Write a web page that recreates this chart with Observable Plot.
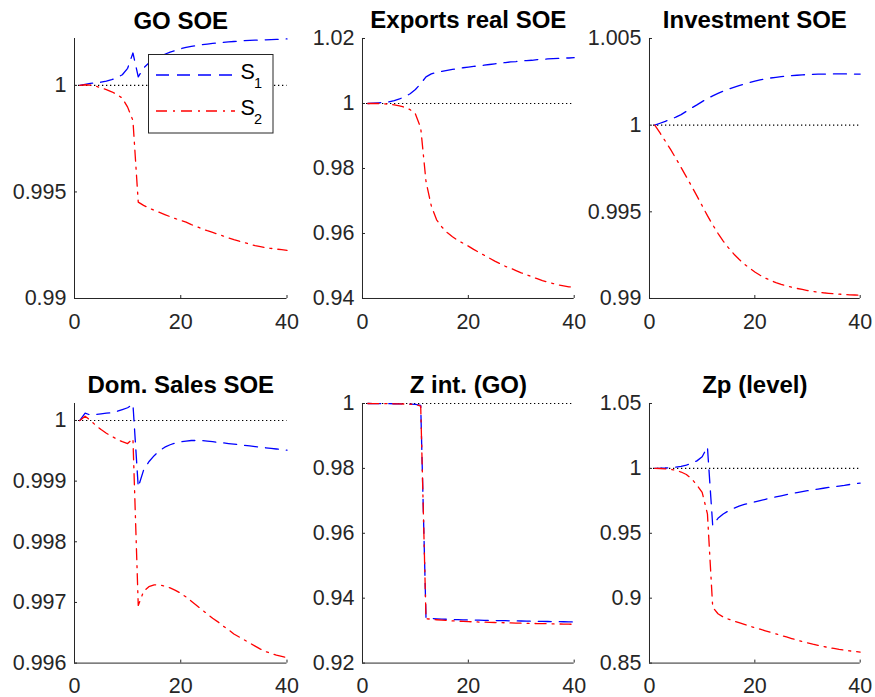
<!DOCTYPE html>
<html>
<head>
<meta charset="utf-8">
<script src="https://cdn.jsdelivr.net/npm/d3@7"></script>
<script src="https://cdn.jsdelivr.net/npm/@observablehq/plot@0.6"></script>
<style>
  body { margin: 0; background: #fff; }
  #chart { position: relative; width: 875px; height: 697px; background: #fff; overflow: hidden;
           font-family: "Liberation Sans", Arial, Helvetica, sans-serif; }
  .panel { position: absolute; }
  .panel svg { overflow: visible; max-width: none !important; }
</style>
</head>
<body>
<div id="chart"></div>
<script>
// ---------- data ----------
const periods = [1,2,3,4,5,6,7,8,9,10,11,12,13,14,15,16,17,18,19,20,21,22,23,24,25,26,27,28,29,30,31,32,33,34,35,36,37,38,39,40];
const xTicks = [0, 20, 40];
const seriesNames = ["S1", "S2"];
const panelTitles = ["GO SOE", "Exports real SOE", "Investment SOE", "Dom. Sales SOE", "Z int. (GO)", "Zp (level)"];

const goS1 = [1.00000,1.00005,1.00009,1.00012,1.00015,1.00020,1.00027,1.00036,1.00050,1.00080,1.00152,1.00040,1.00082,1.00105,1.00122,1.00135,1.00146,1.00156,1.00164,1.00172,1.00178,1.00183,1.00187,1.00191,1.00194,1.00197,1.00200,1.00202,1.00204,1.00206,1.00208,1.00210,1.00211,1.00212,1.00213,1.00214,1.00215,1.00216,1.00217,1.00218];
const goS2 = [1.00000,1.00003,1.00001,0.99996,0.99989,0.99980,0.99970,0.99957,0.99940,0.99898,0.99835,0.99452,0.99437,0.99425,0.99414,0.99404,0.99394,0.99384,0.99375,0.99366,0.99358,0.99347,0.99337,0.99327,0.99318,0.99310,0.99302,0.99293,0.99284,0.99276,0.99269,0.99262,0.99255,0.99248,0.99243,0.99238,0.99235,0.99232,0.99229,0.99226];

const exS1 = [1.0000,1.0001,1.0002,1.0003,1.0005,1.0009,1.0014,1.0021,1.0030,1.0043,1.0061,1.0082,1.0091,1.0096,1.0099,1.0102,1.0105,1.0107,1.0110,1.0112,1.0114,1.0116,1.0118,1.0120,1.0122,1.0124,1.0126,1.0128,1.0129,1.0131,1.0132,1.0133,1.0135,1.0136,1.0137,1.0138,1.0139,1.0140,1.0140,1.0141];
const exS2 = [1.0000,1.0000,1.0000,0.9999,0.9998,0.9996,0.9993,0.9988,0.9981,0.9968,0.9925,0.9760,0.9685,0.9642,0.9620,0.9603,0.9590,0.9579,0.9570,0.9561,0.9551,0.9542,0.9533,0.9524,0.9515,0.9507,0.9499,0.9493,0.9486,0.9479,0.9473,0.9467,0.9461,0.9455,0.9450,0.9446,0.9442,0.9439,0.9436,0.9434];

const invS1 = [1.00000,1.00011,1.00022,1.00034,1.00046,1.00061,1.00080,1.00099,1.00117,1.00136,1.00154,1.00169,1.00183,1.00196,1.00208,1.00218,1.00228,1.00237,1.00246,1.00254,1.00261,1.00267,1.00272,1.00276,1.00280,1.00283,1.00286,1.00288,1.00290,1.00292,1.00293,1.00294,1.00295,1.00295,1.00296,1.00296,1.00296,1.00295,1.00295,1.00295];
const invS2 = [1.00000,0.99955,0.99908,0.99860,0.99809,0.99756,0.99702,0.99647,0.99592,0.99535,0.99478,0.99425,0.99376,0.99331,0.99292,0.99257,0.99226,0.99199,0.99175,0.99153,0.99134,0.99118,0.99104,0.99092,0.99082,0.99073,0.99065,0.99058,0.99052,0.99046,0.99041,0.99037,0.99033,0.99030,0.99027,0.99025,0.99023,0.99021,0.99020,0.99019];

const dsS1 = [1.00000,1.00012,1.00009,1.00010,1.00011,1.00012,1.00013,1.00015,1.00018,1.00021,1.00027,0.99890,0.99918,0.99932,0.99942,0.99950,0.99956,0.99960,0.99963,0.99965,0.99966,0.99967,0.99967,0.99967,0.99966,0.99965,0.99964,0.99963,0.99962,0.99961,0.99960,0.99959,0.99958,0.99957,0.99956,0.99955,0.99954,0.99953,0.99952,0.99951];
const dsS2 = [1.00000,1.00007,1.00000,0.99992,0.99985,0.99979,0.99974,0.99969,0.99965,0.99962,0.99970,0.99695,0.99718,0.99726,0.99729,0.99729,0.99727,0.99724,0.99720,0.99715,0.99709,0.99702,0.99695,0.99688,0.99681,0.99674,0.99668,0.99661,0.99655,0.99648,0.99643,0.99638,0.99633,0.99628,0.99623,0.99619,0.99616,0.99613,0.99611,0.99609];

const ziS1 = [1.00000,0.99999,0.99998,0.99996,0.99994,0.99992,0.99989,0.99986,0.99982,0.99975,0.99940,0.93390,0.93375,0.93365,0.93357,0.93350,0.93344,0.93339,0.93334,0.93330,0.93326,0.93322,0.93318,0.93315,0.93312,0.93309,0.93306,0.93303,0.93300,0.93297,0.93294,0.93291,0.93288,0.93285,0.93282,0.93279,0.93276,0.93273,0.93270,0.93267];
const ziS2 = [1.00000,0.99999,0.99998,0.99996,0.99994,0.99991,0.99988,0.99984,0.99979,0.99970,0.99920,0.93370,0.93350,0.93335,0.93322,0.93311,0.93301,0.93292,0.93284,0.93277,0.93271,0.93265,0.93260,0.93255,0.93250,0.93246,0.93242,0.93238,0.93234,0.93230,0.93226,0.93222,0.93219,0.93215,0.93212,0.93208,0.93205,0.93201,0.93198,0.93194];

const zpS1 = [1.0000,1.0001,1.0003,1.0006,1.0010,1.0016,1.0025,1.0038,1.0058,1.0090,1.0165,0.9560,0.9615,0.9649,0.9673,0.9693,0.9709,0.9722,0.9733,0.9742,0.9752,0.9762,0.9771,0.9780,0.9789,0.9798,0.9806,0.9814,0.9821,0.9828,0.9835,0.9841,0.9847,0.9853,0.9858,0.9864,0.9869,0.9876,0.9882,0.9887];
const zpS2 = [1.0000,0.9999,0.9997,0.9993,0.9985,0.9972,0.9953,0.9920,0.9872,0.9815,0.9650,0.8930,0.8880,0.8855,0.8838,0.8824,0.8811,0.8798,0.8785,0.8773,0.8761,0.8749,0.8737,0.8725,0.8713,0.8701,0.8689,0.8677,0.8666,0.8656,0.8646,0.8637,0.8628,0.8620,0.8613,0.8606,0.8600,0.8594,0.8589,0.8585];

const yDomains = [[0.99, 1.0022], [0.94, 1.02], [0.99, 1.005], [0.996, 1.00028], [0.92, 1.0], [0.85, 1.05]];
const yTickSets = [
  [0.99, 0.995, 1],
  [0.94, 0.96, 0.98, 1, 1.02],
  [0.99, 0.995, 1, 1.005],
  [0.996, 0.997, 0.998, 0.999, 1],
  [0.92, 0.94, 0.96, 0.98, 1],
  [0.85, 0.9, 0.95, 1, 1.05]
];
const panelSeries = [[goS1, goS2], [exS1, exS2], [invS1, invS2], [dsS1, dsS2], [ziS1, ziS2], [zpS1, zpS2]];

// ---------- layout ----------
const FONT = '"Liberation Sans", Arial, Helvetica, sans-serif';
const AX = "#262626";
const colLeft = [74, 362.3, 649.3];
const colWidth = [212.5, 211.7, 210.7];
const rowTop = [38.3, 402.7];
const rowHeight = [260, 259.6];
const mL = 70, mR = 20, mT = 38, mB = 40;

const chart = document.getElementById("chart");

panelSeries.forEach(([s1, s2], k) => {
  const col = k % 3, row = Math.floor(k / 3);
  const pw = colWidth[col], ph = rowHeight[row];
  const yDomain = yDomains[k], yTicks = yTickSets[k];
  const rows = (arr, name) => periods.map((t, i) => ({t, v: arr[i], s: name}));
  const d1 = rows(s1, seriesNames[0]);
  const d2 = rows(s2, seriesNames[1]);
  const W = mL + pw + mR, H = mT + ph + mB;

  const svg = Plot.plot({
    width: W,
    height: H,
    marginLeft: mL, marginRight: mR, marginTop: mT, marginBottom: mB,
    style: {background: "transparent", overflow: "visible", fontFamily: FONT, color: AX, maxWidth: "none"},
    x: {domain: [0, 40], label: null},
    y: {domain: yDomain, label: null},
    marks: [
      Plot.ruleY([1], {stroke: "black", strokeWidth: 1.2, strokeDasharray: "1.3,2.7"}),
      Plot.line(d1, {x: "t", y: "v", stroke: "#0000ff", strokeWidth: 1.3, strokeDasharray: "13,8"}),
      Plot.line(d2, {x: "t", y: "v", stroke: "#ff0000", strokeWidth: 1.3, strokeDasharray: "11,6,2,6"}),
      Plot.ruleX([0], {stroke: AX, strokeWidth: 1}),
      Plot.ruleY([yDomain[0]], {stroke: AX, strokeWidth: 1}),
      Plot.tickY(yTicks, {y: d => d, stroke: AX, strokeWidth: 1, insetRight: pw - 3}),
      Plot.tickX(xTicks, {x: d => d, stroke: AX, strokeWidth: 1, insetTop: ph - 3}),
      Plot.axisY({ticks: yTicks, tickSize: 0, tickPadding: 8, fontSize: 21.5, label: null, tickFormat: d => String(d), fill: AX}),
      Plot.axisX({ticks: xTicks, tickSize: 0, tickPadding: 15, fontSize: 21.5, label: null, tickFormat: d => String(d), fill: AX}),
      Plot.text([panelTitles[k]], {text: d => d, frameAnchor: "top", dy: -10, lineAnchor: "bottom",
        fontSize: 24, fontWeight: "bold", fill: "black"})
    ]
  });
  const div = document.createElement("div");
  div.className = "panel";
  div.style.left = (colLeft[col] - mL) + "px";
  div.style.top = (rowTop[row] - mT) + "px";
  div.style.width = W + "px";
  div.style.height = H + "px";
  div.appendChild(svg);
  chart.appendChild(div);
});

// ---------- legend (in the first panel) ----------
const legend = document.createElement("div");
legend.style.position = "absolute";
legend.style.left = "148px";
legend.style.top = "54px";
legend.innerHTML = `
<svg width="126" height="80" style="overflow:visible;font-family:${FONT}">
  <rect x="0.5" y="0.5" width="124.5" height="78.5" fill="white" stroke="${AX}" stroke-width="1"/>
  <line x1="8" x2="87" y1="21" y2="21" stroke="#0000ff" stroke-width="1.3" stroke-dasharray="13,8"/>
  <line x1="8" x2="87" y1="57" y2="57" stroke="#ff0000" stroke-width="1.3" stroke-dasharray="11,6,2,6"/>
  <text x="92.5" y="25" font-size="21.5" fill="black">S</text>
  <text x="106" y="34" font-size="14.5" fill="black">1</text>
  <text x="92.5" y="61" font-size="21.5" fill="black">S</text>
  <text x="106" y="70" font-size="14.5" fill="black">2</text>
</svg>`;
chart.appendChild(legend);
</script>
</body>
</html>
